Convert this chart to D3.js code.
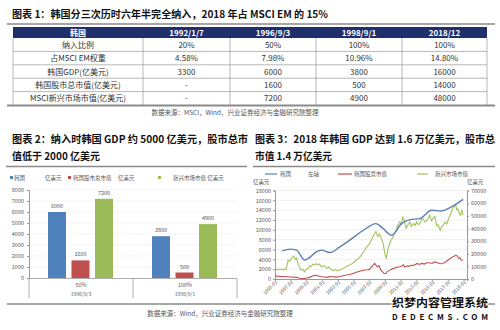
<!DOCTYPE html>
<html>
<head>
<meta charset="utf-8">
<script src="https://cdn.jsdelivr.net/npm/d3@7"></script>
<style>
  html, body { margin: 0; padding: 0; background: #fff; }
  svg { display: block; }
  text { font-family: "Noto Sans CJK SC", "Noto Sans", sans-serif; }
</style>
</head>
<body>
<svg id="page" width="500" height="330"></svg>
<script>
// ---- Table 1: MSCI EM inclusion steps ----
const tableHeader = ["韩国", "1992/1/7", "1996/9/3", "1998/9/1", "2018/12"];
const tableRowLabels = ["纳入比例", "占MSCI EM权重", "韩国GDP(亿美元)", "韩国股市总市值(亿美元)", "MSCI新兴市场市值(亿美元)"];
const tableValues = [
  ["20%", "50%", "100%", "100%"],
  ["4.58%", "7.98%", "10.96%", "14.80%"],
  ["3300", "6000", "3800", "16000"],
  ["-", "1600", "500", "14000"],
  ["-", "7200", "4900", "48000"]
];

// ---- Chart 2: values at the two later inclusion dates ----
const inclusionDates = ["1996/9/3", "1998/9/1"];
const inclusionRatios = ["50%", "100%"];
const barSeries = ["韩国GDP", "韩国股市总市值", "新兴市场市值"];
const gdpAtInclusion = [6000, 3800];
const marketCapAtInclusion = [1600, 500];
const emCapAtInclusion = [7200, 4900];
const barTicks = [0, 1000, 2000, 3000, 4000, 5000, 6000, 7000, 8000];

// ---- Chart 3: time series (亿美元) ----
const gdpDates = ["1995-12","1996-12","1997-10","1998-03","1998-10","1999-06","2000-04","2000-12","2002-01","2003-04","2004-07","2006-04","2007-11","2008-10","2009-11","2011-02","2012-03","2013-06","2014-12","2016-03","2017-04","2018-12"];
const gdpValues = [5730,6070,5870,5060,3850,4390,5530,5870,5400,6540,7900,9920,11270,10260,8900,11270,12080,12280,13970,13830,14510,16200];

const emDates = ["1995-01","1995-03","1995-05","1995-09","1996-01","1996-04","1996-06","1996-09","1996-11","1997-02","1997-06","1997-08","1997-10","1997-12","1998-03","1998-05","1998-08","1998-10","1999-01","1999-04","1999-06","1999-08","1999-11","2000-02","2000-04","2000-07","2000-09","2000-12","2001-04","2001-08","2001-11","2002-02","2002-06","2002-09","2003-01","2003-04","2003-09","2004-02","2004-07","2005-01","2005-05","2005-09","2006-01","2006-05","2006-09","2007-01","2007-04","2007-07","2007-09","2007-11","2008-02","2008-04","2008-06","2008-10","2009-01","2009-03","2009-05","2009-08","2009-10","2010-01","2010-04","2010-06","2010-08","2010-11","2011-02","2011-04","2011-07","2011-09","2011-12","2012-03","2012-05","2012-08","2012-11","2013-01","2013-04","2013-06","2013-09","2013-11","2014-02","2014-06","2014-09","2014-12","2015-02","2015-05","2015-08","2015-10","2016-01","2016-03","2016-06","2016-08","2016-11","2017-01","2017-04","2017-06","2017-08","2017-10","2018-01","2018-02","2018-04","2018-06","2018-08","2018-10","2018-12"];
const emValues = [10200,7600,7100,7800,7100,8000,7600,15000,14000,16300,18300,15500,16500,12300,9000,7100,7500,5800,7800,8400,10500,9700,11800,11000,12300,11000,11800,9700,10500,8400,9500,8000,6500,7500,6500,7200,8400,9800,11000,13000,15000,16500,18900,22000,25400,27500,30700,34000,36000,37500,33500,35500,34000,28100,18900,16500,22800,28100,30500,33300,36500,38500,42000,45100,43500,49000,45000,40000,43000,45100,41500,43800,42500,45100,43000,44000,47700,47700,45100,47000,50400,46000,47700,49500,42000,43000,38500,41000,42500,45000,43500,46500,50400,53000,55600,57000,58200,55000,55600,52000,50400,54300,50500];

const capDates = ["1995-01","1995-08","1996-06","1997-01","1997-10","1998-01","1998-05","1998-10","1999-01","1999-06","1999-11","2000-03","2000-07","2000-12","2001-04","2001-08","2002-01","2002-05","2002-10","2003-04","2003-09","2004-02","2004-07","2005-01","2005-05","2005-09","2006-01","2006-06","2006-10","2007-01","2007-05","2007-09","2008-01","2008-04","2008-06","2008-11","2009-02","2009-04","2009-10","2010-01","2010-05","2010-08","2010-12","2011-03","2011-05","2011-07","2011-10","2012-01","2012-06","2012-08","2013-02","2013-05","2013-09","2014-01","2014-05","2014-08","2015-01","2015-04","2015-08","2016-01","2016-05","2016-09","2017-01","2017-04","2017-08","2017-10","2018-01","2018-03","2018-05","2018-07","2018-09","2018-12"];
const capValues = [2400,2100,1800,1600,1300,800,500,400,800,1300,2600,2900,2400,1800,1600,1300,1900,1800,1500,2000,2600,3100,3500,4500,5300,6000,6500,7100,7300,7600,10000,12300,9700,10500,7600,4500,4200,5700,7600,8200,8900,9400,9700,10500,11300,9500,10200,10000,11000,10500,12300,11500,12300,11800,12800,12900,12300,13500,13100,12100,12300,13500,15000,16000,17500,18000,18900,18300,16300,16800,15000,15000];

const leftTicks = [0,2000,4000,6000,8000,10000,12000,14000,16000,18000];
const rightTicks = [0,10000,20000,30000,40000,50000,60000,70000];
const xTickYears = d3.range(1995, 2020, 2);

const svg = d3.select("#page");
const parseMonth = d3.timeParse("%Y-%m");
const fmtNum = d3.format("d");

// bold heading text fitted to a given width
function heading(x, y, width, str) {
  svg.append("text").attr("x", x).attr("y", y)
    .attr("font-size", 10).attr("font-weight", "bold").attr("fill", "#111")
    .attr("textLength", width).attr("lengthAdjust", "spacingAndGlyphs")
    .text(str);
}

// ================= Table 1 =================
heading(12, 18, 316, "图表 1：韩国分三次历时六年半完全纳入，2018 年占 MSCI EM 的 15%");
svg.append("line").attr("x1", 7).attr("x2", 495).attr("y1", 24).attr("y2", 24)
  .attr("stroke", "#8a8a8a").attr("stroke-width", 1.5);

const colEdges = [13, 143, 230, 316, 402, 487];
const rowEdges = [27, 38, 51.4, 64.8, 78.2, 91.6, 105];
const table = svg.append("g");

table.append("rect").attr("x", colEdges[0]).attr("y", rowEdges[0])
  .attr("width", colEdges[5] - colEdges[0]).attr("height", rowEdges[1] - rowEdges[0])
  .attr("fill", "#1f2f6b");
table.selectAll("text.head").data(tableHeader).join("text").attr("class", "head")
  .attr("x", (d, i) => (colEdges[i] + colEdges[i + 1]) / 2)
  .attr("y", (rowEdges[0] + rowEdges[1]) / 2 + 3)
  .attr("text-anchor", "middle").attr("font-size", 8).attr("font-weight", "bold")
  .attr("fill", "#fff").text(d => d);

rowEdges.slice(2, 6).forEach(y => {
  table.append("line").attr("x1", colEdges[0]).attr("x2", colEdges[5])
    .attr("y1", y).attr("y2", y).attr("stroke", "#9a9a9a").attr("stroke-width", 0.7);
});
colEdges.forEach(x => {
  table.append("line").attr("x1", x).attr("x2", x)
    .attr("y1", rowEdges[1]).attr("y2", rowEdges[6]).attr("stroke", "#9a9a9a").attr("stroke-width", 0.7);
});
tableRowLabels.forEach((lab, r) => {
  const cy = (rowEdges[r + 1] + rowEdges[r + 2]) / 2 + 3;
  table.append("text").attr("x", (colEdges[0] + colEdges[1]) / 2).attr("y", cy)
    .attr("text-anchor", "middle").attr("font-size", 8).attr("fill", "#333").text(lab);
  tableValues[r].forEach((v, c) => {
    table.append("text").attr("x", (colEdges[c + 1] + colEdges[c + 2]) / 2).attr("y", cy)
      .attr("text-anchor", "middle").attr("font-size", 8).attr("fill", "#333").text(v);
  });
});
svg.append("line").attr("x1", 7).attr("x2", 495).attr("y1", 105.5).attr("y2", 105.5)
  .attr("stroke", "#8a8a8a").attr("stroke-width", 1.8);
svg.append("text").attr("x", 235).attr("y", 115).attr("text-anchor", "middle")
  .attr("font-size", 6.5).attr("fill", "#555")
  .text("数据来源：MSCI，Wind，兴业证券经济与金融研究院整理");

// ================= Chart 2 =================
heading(12, 143, 236, "图表 2：纳入时韩国 GDP 约 5000 亿美元，股市总市");
heading(12, 160, 88, "值低于 2000 亿美元");
svg.append("line").attr("x1", 6).attr("x2", 247).attr("y1", 166.5).attr("y2", 166.5)
  .attr("stroke", "#8a8a8a").attr("stroke-width", 1.5);

const barColors = ["#4f81bd", "#c0504d", "#9bbb59"];
const lg2 = svg.append("g").attr("font-size", 5.5).attr("fill", "#555");
[[10, 0, "韩国", 12], [68, 1, "韩国股市总市值", 71], [158, 2, "", 0]].forEach(([sx, ci, t, tx]) => {
  lg2.append("rect").attr("x", sx).attr("y", 176).attr("width", 3).attr("height", 3).attr("fill", barColors[ci]);
  if (t) lg2.append("text").attr("x", tx + 2).attr("y", 180).text(t);
});
lg2.append("text").attr("x", 45).attr("y", 180).text("亿美元");
lg2.append("text").attr("x", 118).attr("y", 180).text("亿美元");
lg2.append("text").attr("x", 173).attr("y", 180).text("新兴市场市值 亿美元");

const y2 = d3.scaleLinear().domain([0, 8000]).range([278, 190]);
const x2 = d3.scaleBand().domain(inclusionDates).range([29, 237]);
const xInner = d3.scaleBand().domain(barSeries).range([19, 84]).paddingInner(0.234);

svg.append("g").selectAll("line").data(barTicks.slice(1)).join("line")
  .attr("x1", 29).attr("x2", 237).attr("y1", d => y2(d)).attr("y2", d => y2(d))
  .attr("stroke", "#ececec").attr("stroke-width", 0.6);

const yAxis2 = svg.append("g").attr("transform", "translate(29,0)")
  .call(d3.axisLeft(y2).tickValues(barTicks).tickSize(2).tickFormat(fmtNum));
yAxis2.selectAll("text").attr("font-size", 5.5).attr("fill", "#555").attr("x", -5);
yAxis2.selectAll("line,path").attr("stroke", "#999");

const barRows = inclusionDates.map((d, i) => ({
  date: d, vals: [gdpAtInclusion[i], marketCapAtInclusion[i], emCapAtInclusion[i]]
}));
const groups = svg.append("g").selectAll("g").data(barRows).join("g")
  .attr("transform", d => `translate(${x2(d.date)},0)`);
groups.selectAll("rect").data(d => d.vals.map((v, k) => ({ s: barSeries[k], v, k }))).join("rect")
  .attr("x", d => xInner(d.s)).attr("width", xInner.bandwidth())
  .attr("y", d => y2(d.v)).attr("height", d => y2(0) - y2(d.v))
  .attr("fill", d => barColors[d.k]);
groups.selectAll("text").data(d => d.vals.map((v, k) => ({ s: barSeries[k], v }))).join("text")
  .attr("x", d => xInner(d.s) + xInner.bandwidth() / 2).attr("y", d => y2(d.v) - 4)
  .attr("text-anchor", "middle").attr("font-size", 5.5).attr("fill", "#555").text(d => d.v);

// two-level category axis
svg.append("line").attr("x1", 29).attr("x2", 237).attr("y1", 278.5).attr("y2", 278.5).attr("stroke", "#999").attr("stroke-width", 0.8);
[29, ...inclusionDates.map(d => x2(d) + x2.bandwidth())].forEach(x => {
  svg.append("line").attr("x1", x).attr("x2", x).attr("y1", 278.5).attr("y2", 298)
    .attr("stroke", "#999").attr("stroke-width", 0.8);
});
inclusionDates.forEach((d, i) => {
  const cx = x2(d) + x2.bandwidth() / 2;
  svg.append("text").attr("x", cx).attr("y", 287).attr("text-anchor", "middle")
    .attr("font-size", 5.5).attr("fill", "#555").text(inclusionRatios[i]);
  svg.append("text").attr("x", cx).attr("y", 296).attr("text-anchor", "middle")
    .attr("font-size", 5).attr("fill", "#555").text(d);
});

// ================= Chart 3 =================
heading(255, 143, 240, "图表 3：2018 年韩国 GDP 达到 1.6 万亿美元，股市总");
heading(255, 160, 77, "市值 1.4 万亿美元");
svg.append("line").attr("x1", 253).attr("x2", 495).attr("y1", 166.5).attr("y2", 166.5)
  .attr("stroke", "#8a8a8a").attr("stroke-width", 1.5);

const lineColors = ["#5b80b0", "#c0504d", "#a6c25e"];
const lg3 = svg.append("g").attr("font-size", 5.5).attr("fill", "#555");
[[265, 277, 0], [338, 352, 1], [417, 428, 2]].forEach(([a, b, ci]) => {
  lg3.append("line").attr("x1", a).attr("x2", b).attr("y1", 174).attr("y2", 174)
    .attr("stroke", lineColors[ci]).attr("stroke-width", 1.2);
});
lg3.append("text").attr("x", 280).attr("y", 176).text("韩国");
lg3.append("text").attr("x", 308).attr("y", 176).text("左轴");
lg3.append("text").attr("x", 354).attr("y", 176).text("韩国股票市值");
lg3.append("text").attr("x", 435).attr("y", 176).text("新兴市场市值");
lg3.append("text").attr("x", 253).attr("y", 184).text("亿美元");
lg3.append("text").attr("x", 467).attr("y", 184).text("亿美元");

const x3 = d3.scaleTime().domain([new Date(1995, 0, 1), new Date(2019, 5, 1)]).range([275, 467]);
const yL = d3.scaleLinear().domain([0, 18000]).range([279, 190.5]);
const yR = d3.scaleLinear().domain([0, 70000]).range([279, 190.5]);

svg.append("g").selectAll("line").data(leftTicks.slice(1)).join("line")
  .attr("x1", 275).attr("x2", 467).attr("y1", d => yL(d)).attr("y2", d => yL(d))
  .attr("stroke", "#e6e6e6").attr("stroke-width", 0.6);

const axL = svg.append("g").attr("transform", "translate(275,0)")
  .call(d3.axisLeft(yL).tickValues(leftTicks).tickSize(2).tickFormat(fmtNum));
axL.selectAll("text").attr("font-size", 5.5).attr("fill", "#555").attr("x", -4);
axL.selectAll("line,path").attr("stroke", "#999");

const axR = svg.append("g").attr("transform", "translate(467,0)")
  .call(d3.axisRight(yR).tickValues(rightTicks).tickSize(2).tickFormat(fmtNum));
axR.selectAll("text").attr("font-size", 5.5).attr("fill", "#555").attr("x", 4);
axR.selectAll("line,path").attr("stroke", "#999");

const axB = svg.append("g").attr("transform", "translate(0,279)")
  .call(d3.axisBottom(x3).tickValues(xTickYears.map(y => new Date(y, 0, 1)))
    .tickSize(2).tickFormat(d3.timeFormat("%Y-%m")));
axB.selectAll("line,path").attr("stroke", "#999");
axB.selectAll("text").attr("font-size", 4.8).attr("fill", "#555")
  .attr("text-anchor", "end").attr("dy", 0).attr("y", 4).attr("x", -1)
  .attr("transform", "rotate(-45)");

const toPts = (dates, vals) => dates.map((d, i) => ({ t: parseMonth(d), v: vals[i] }));
const gdpLine = d3.line().x(d => x3(d.t)).y(d => yL(d.v)).curve(d3.curveMonotoneX);
const rightLine = d3.line().x(d => x3(d.t)).y(d => yR(d.v)).curve(d3.curveLinear);

svg.append("path").datum(toPts(emDates, emValues)).attr("d", rightLine)
  .attr("fill", "none").attr("stroke", lineColors[2]).attr("stroke-width", 1.1);
svg.append("path").datum(toPts(capDates, capValues)).attr("d", rightLine)
  .attr("fill", "none").attr("stroke", lineColors[1]).attr("stroke-width", 1.1);
svg.append("path").datum(toPts(gdpDates, gdpValues)).attr("d", gdpLine)
  .attr("fill", "none").attr("stroke", lineColors[0]).attr("stroke-width", 1.4);

// ================= Footer =================
svg.append("line").attr("x1", 7).attr("x2", 495).attr("y1", 304).attr("y2", 304)
  .attr("stroke", "#8a8a8a").attr("stroke-width", 1.5);
svg.append("text").attr("x", 220).attr("y", 316).attr("text-anchor", "middle")
  .attr("font-size", 6.5).attr("fill", "#555")
  .text("数据来源：Wind，兴业证券经济与金融研究院整理");

// site stamp in the lower-right corner
svg.append("text").attr("x", 440).attr("y", 307).attr("text-anchor", "middle")
  .attr("font-size", 11.5).attr("font-weight", "bold").attr("fill", "#111")
  .attr("stroke", "#fff").attr("stroke-width", 2).attr("paint-order", "stroke")
  .attr("textLength", 96).attr("lengthAdjust", "spacingAndGlyphs")
  .text("织梦内容管理系统");
svg.append("text").attr("x", 440).attr("y", 320).attr("text-anchor", "middle")
  .attr("font-size", 8).attr("font-weight", "bold")
  .attr("font-family", "DejaVu Sans Mono").attr("fill", "#111")
  .attr("stroke", "#fff").attr("stroke-width", 1.5).attr("paint-order", "stroke")
  .attr("textLength", 96).attr("lengthAdjust", "spacing")
  .text("DEDECMS.COM");
</script>
</body>
</html>
